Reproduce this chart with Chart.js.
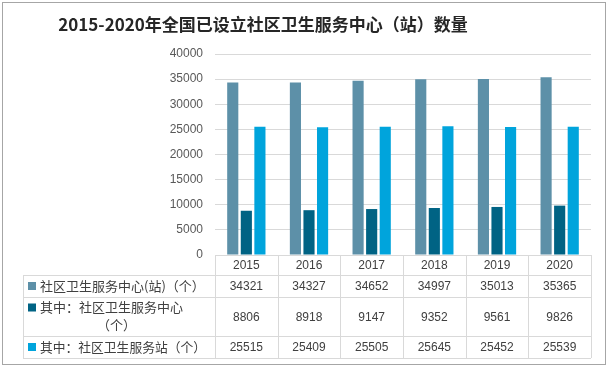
<!DOCTYPE html>
<html>
<head>
<meta charset="utf-8">
<script src="https://cdn.jsdelivr.net/npm/chart.js@4"></script>
<style>
  html, body { margin: 0; padding: 0; background: #fff; }
  #wrap { width: 608px; height: 367px; }
</style>
</head>
<body>
<div id="wrap"><canvas id="myChart" width="608" height="367"></canvas></div>
<script>
// chart data
const years = ['2015', '2016', '2017', '2018', '2019', '2020'];
const centerTotal = [34321, 34327, 34652, 34997, 35013, 35365];
const centerOnly = [8806, 8918, 9147, 9352, 9561, 9826];
const stationOnly = [25515, 25409, 25505, 25645, 25452, 25539];
const seriesNames = ['社区卫生服务中心(站)（个）', '其中：社区卫生服务中心\n（个）', '其中：社区卫生服务站（个）'];
const seriesColors = ['#5d90a8', '#006384', '#00a4dc'];
const yTicks = [0, 5000, 10000, 15000, 20000, 25000, 30000, 35000, 40000];
const titleText = '2015-2020年全国已设立社区卫生服务中心（站）数量';

const cjk = '"Noto Sans CJK SC", "Noto Sans", sans-serif';
const num = '"Liberation Sans", Arial, sans-serif';

// white background, outer frame and title
const framePlugin = {
  id: 'frame',
  beforeDraw(chart) {
    const ctx = chart.ctx;
    ctx.save();
    ctx.fillStyle = '#fff';
    ctx.fillRect(0, 0, chart.width, chart.height);
    ctx.strokeStyle = '#a6a6a6';
    ctx.lineWidth = 1;
    ctx.strokeRect(2.5, 2.5, 603, 362);
    ctx.fillStyle = '#262626';
    ctx.font = 'bold 17px ' + cjk;
    ctx.textAlign = 'center';
    ctx.textBaseline = 'middle';
    ctx.fillText(titleText, 263, 25);
    ctx.restore();
  }
};

// data table under the bars, columns follow the x scale
const tablePlugin = {
  id: 'dataTable',
  afterDraw(chart) {
    const ctx = chart.ctx;
    const x = chart.scales.x;
    const area = chart.chartArea;
    const colW = (area.right - area.left) / years.length;
    const left = 23;
    const rows = [[area.bottom, 275], [275, 297], [297, 336], [336, 358]];
    const values = [centerTotal, centerOnly, stationOnly];

    ctx.save();
    ctx.strokeStyle = '#d9d9d9';
    ctx.lineWidth = 1;
    ctx.beginPath();
    // horizontal lines
    ctx.moveTo(area.left, area.bottom + 0.5); ctx.lineTo(area.right, area.bottom + 0.5);
    [275, 297, 336, 358].forEach(y => {
      ctx.moveTo(left, y + 0.5); ctx.lineTo(area.right, y + 0.5);
    });
    // vertical lines
    ctx.moveTo(left + 0.5, 275); ctx.lineTo(left + 0.5, 358);
    for (let i = 0; i <= years.length; i++) {
      const px = Math.round(area.left + i * colW) + 0.5;
      ctx.moveTo(px, area.bottom); ctx.lineTo(px, 358);
    }
    ctx.stroke();

    ctx.fillStyle = '#404040';
    ctx.textAlign = 'center';
    ctx.textBaseline = 'middle';
    ctx.font = '12px ' + num;
    years.forEach((yr, i) => {
      ctx.fillText(yr, x.getPixelForValue(i), (rows[0][0] + rows[0][1]) / 2 + 1);
    });

    values.forEach((vals, r) => {
      const [top, bot] = rows[r + 1];
      const mid = (top + bot) / 2;
      ctx.font = '12px ' + num;
      ctx.textAlign = 'center';
      ctx.fillStyle = '#404040';
      vals.forEach((v, i) => ctx.fillText(String(v), x.getPixelForValue(i), mid + 1));

      // legend key + name
      const lines = seriesNames[r].split('\n');
      const firstY = lines.length > 1 ? mid - 9 : mid;
      ctx.fillStyle = seriesColors[r];
      ctx.fillRect(28, firstY - 4, 8, 8);
      ctx.fillStyle = '#404040';
      ctx.font = '13px ' + cjk;
      ctx.textAlign = 'left';
      ctx.fillText(lines[0], 40, firstY, 166);
      if (lines[1]) ctx.fillText(lines[1], 97, firstY + 18);
    });
    ctx.restore();
  }
};

const ctx = document.getElementById('myChart').getContext('2d');
const myChart = new Chart(ctx, {
  type: 'bar',
  data: {
    labels: years,
    datasets: [
      { label: seriesNames[0], data: centerTotal, backgroundColor: seriesColors[0] },
      { label: seriesNames[1], data: centerOnly, backgroundColor: seriesColors[1] },
      { label: seriesNames[2], data: stationOnly, backgroundColor: seriesColors[2] }
    ]
  },
  options: {
    responsive: false,
    animation: false,
    categoryPercentage: 0.65,
    barPercentage: 0.82,
    layout: { padding: { left: 0, right: 17, top: 54, bottom: 112 } },
    plugins: {
      legend: { display: false },
      tooltip: { enabled: false },
      title: { display: false }
    },
    scales: {
      x: { display: false },
      y: {
        min: 0,
        max: 40000,
        afterFit(scale) { scale.width = 215; },
        afterBuildTicks(scale) { scale.ticks = yTicks.map(v => ({ value: v })); },
        border: { display: false },
        grid: { color: '#d9d9d9', drawTicks: false },
        ticks: {
          padding: 12,
          color: '#595959',
          font: { family: num, size: 12 },
          callback: v => String(v)
        }
      }
    }
  },
  plugins: [framePlugin, tablePlugin]
});
</script>
</body>
</html>
